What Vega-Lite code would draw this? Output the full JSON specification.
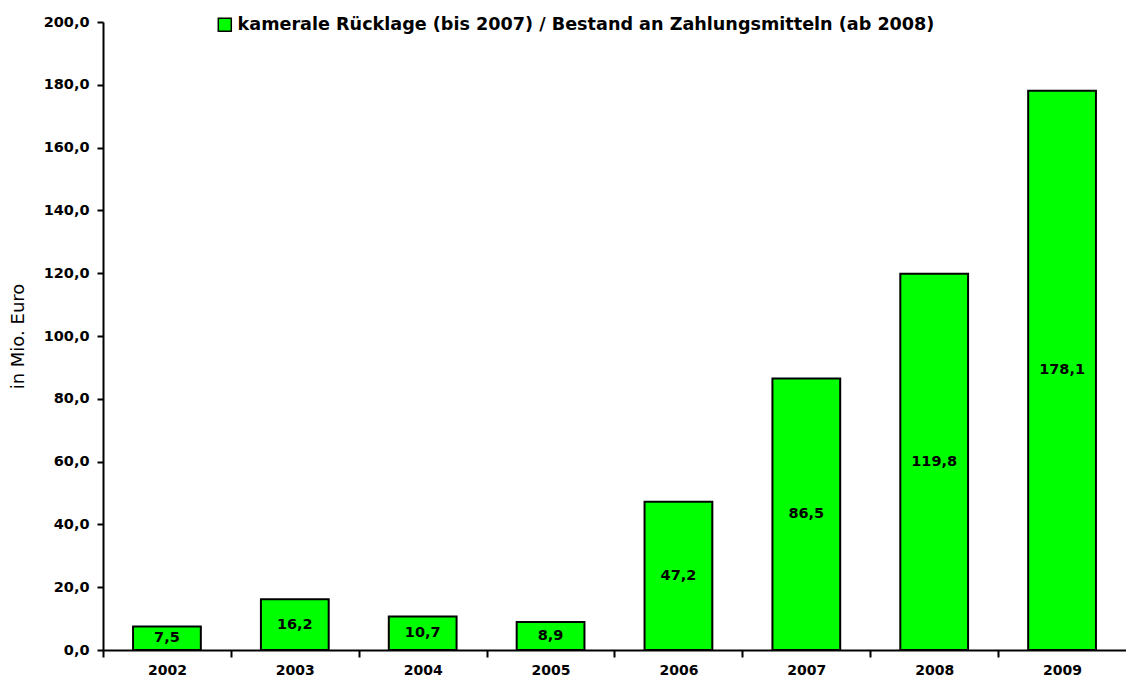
{
  "$schema": "https://vega.github.io/schema/vega-lite/v6.json",
  "autosize": "none",
  "width": 1023,
  "height": 628,
  "padding": {"left": 103, "top": 22, "right": 0, "bottom": 36},
  "background": "white",
  "config": {
    "view": {"stroke": null},
    "locale": {"number": {"decimal": ",", "thousands": ".", "grouping": [3], "currency": ["", " €"]}},
    "font": "DejaVu Sans"
  },
  "data": {"values": [
    {"jahr": "2002", "wert": 7.5, "serie": "kamerale Rücklage (bis 2007) / Bestand an Zahlungsmitteln (ab 2008)"},
    {"jahr": "2003", "wert": 16.2, "serie": "kamerale Rücklage (bis 2007) / Bestand an Zahlungsmitteln (ab 2008)"},
    {"jahr": "2004", "wert": 10.7, "serie": "kamerale Rücklage (bis 2007) / Bestand an Zahlungsmitteln (ab 2008)"},
    {"jahr": "2005", "wert": 8.9, "serie": "kamerale Rücklage (bis 2007) / Bestand an Zahlungsmitteln (ab 2008)"},
    {"jahr": "2006", "wert": 47.2, "serie": "kamerale Rücklage (bis 2007) / Bestand an Zahlungsmitteln (ab 2008)"},
    {"jahr": "2007", "wert": 86.5, "serie": "kamerale Rücklage (bis 2007) / Bestand an Zahlungsmitteln (ab 2008)"},
    {"jahr": "2008", "wert": 119.8, "serie": "kamerale Rücklage (bis 2007) / Bestand an Zahlungsmitteln (ab 2008)"},
    {"jahr": "2009", "wert": 178.1, "serie": "kamerale Rücklage (bis 2007) / Bestand an Zahlungsmitteln (ab 2008)"}
  ]},
  "encoding": {
    "x": {"field": "jahr", "type": "ordinal",
      "scale": {"paddingInner": 0.47, "paddingOuter": 0.235},
      "axis": {"title": null, "tickOffset": -64, "labelOffset": 64, "tickSize": 7, "tickColor": "black", "tickWidth": 2, "domainColor": "black", "domainWidth": 2, "grid": false,
        "labelFont": "DejaVu Sans", "labelFontWeight": "bold", "labelFontSize": 14, "labelColor": "black", "labelPadding": 6, "labelAngle": 0}}
  },
  "layer": [
    {
      "mark": {"type": "bar", "stroke": "black", "strokeWidth": 2},
      "encoding": {
        "y": {"field": "wert", "type": "quantitative",
          "scale": {"domain": [0, 200], "nice": false},
          "axis": {"title": "in Mio. Euro", "values": [0,20,40,60,80,100,120,140,160,180,200], "format": ".1f", "grid": false,
            "domainColor": "black", "domainWidth": 2, "tickColor": "black", "tickWidth": 2, "tickSize": 6,
            "labelFont": "DejaVu Sans", "labelFontWeight": "bold", "labelFontSize": 14.5, "labelColor": "black", "labelPadding": 8,
            "titleFont": "DejaVu Sans", "titleFontWeight": "normal", "titleFontSize": 18, "titleColor": "black", "titlePadding": 16}},
        "color": {"field": "serie", "type": "nominal",
          "scale": {"range": ["#00FF00"]},
          "legend": {"title": null, "orient": "none", "legendX": 113, "legendY": -6,
            "symbolType": "square", "symbolSize": 169, "symbolStrokeColor": "black", "symbolStrokeWidth": 1.5, "symbolOpacity": 1, "symbolFillColor": "#00FF00",
            "labelFont": "DejaVu Sans", "labelFontWeight": "bold", "labelFontSize": 17.6, "labelColor": "black", "labelLimit": 0, "labelOffset": 4}}
      }
    },
    {
      "mark": {"type": "text", "font": "DejaVu Sans", "fontWeight": "bold", "fontSize": 14.5, "color": "black", "baseline": "middle"},
      "encoding": {
        "y": {"field": "wert", "type": "quantitative", "scale": {"domain": [0, 400], "nice": false}, "axis": null},
        "text": {"field": "wert", "type": "quantitative", "format": ".1f"}
      }
    }
  ],
  "resolve": {"scale": {"y": "independent"}}
}
